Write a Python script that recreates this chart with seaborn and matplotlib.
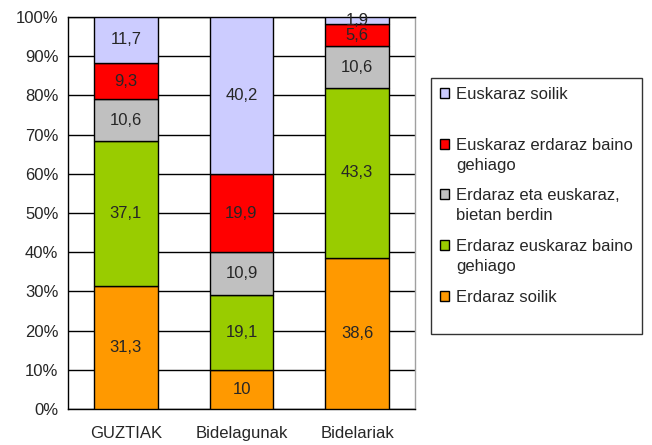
import pandas as pd
import seaborn as sns
import matplotlib.pyplot as plt
from matplotlib.patches import Patch, Rectangle
from matplotlib.legend_handler import HandlerPatch

# Datuak
groups = ["GUZTIAK", "Bidelagunak", "Bidelariak"]
series = ["Euskaraz soilik", "Euskaraz erdaraz baino gehiago",
          "Erdaraz eta euskaraz, bietan berdin",
          "Erdaraz euskaraz baino gehiago", "Erdaraz soilik"]
legend_labels = ["Euskaraz soilik\n ", "Euskaraz erdaraz baino\ngehiago",
                 "Erdaraz eta euskaraz,\nbietan berdin",
                 "Erdaraz euskaraz baino\ngehiago", "Erdaraz soilik\n "]
euskaraz_soilik = [11.7, 40.2, 1.9]
euskaraz_gehiago = [9.3, 19.9, 5.6]
berdin = [10.6, 10.9, 10.6]
erdaraz_gehiago = [37.1, 19.1, 43.3]
erdaraz_soilik = [31.3, 10, 38.6]
colors = ["#CCCCFF", "#FF0000", "#C0C0C0", "#99CC00", "#FF9900"]

values = [euskaraz_soilik, euskaraz_gehiago, berdin, erdaraz_gehiago, erdaraz_soilik]
rows = []
for s, vals in zip(series, values):
    for g, v in zip(groups, vals):
        rows.append({"group": g, "series": s, "value": v})
df = pd.DataFrame(rows)
df["group"] = pd.Categorical(df["group"], categories=groups, ordered=True)

sns.set_style("white")
plt.rcParams["font.family"] = ["Liberation Sans", "DejaVu Sans"]
fs = 12

fig = plt.figure(figsize=(6.52, 4.45), dpi=100)
ax = fig.add_axes([68 / 652, 36 / 445, 347 / 652, 392 / 445])

sns.histplot(data=df, x="group", hue="series", weights="value",
             hue_order=series, palette=colors, multiple="stack",
             discrete=True, shrink=0.55, alpha=1, edgecolor="black",
             linewidth=1, legend=False, ax=ax, zorder=3)

for cont in ax.containers:
    labels = []
    for bar in cont:
        h = bar.get_height()
        labels.append(f"{h:g}".replace(".", ",") if h > 0 else "")
    ax.bar_label(cont, labels=labels, label_type="center", fontsize=fs)

ax.set_xlim(-0.5, 2.5)
ax.set_ylim(0, 100)
ax.set_yticks(range(0, 101, 10))
ax.set_yticklabels([f"{t}%" for t in range(0, 101, 10)], fontsize=fs)
ax.set_xticks([0, 1, 2])
ax.set_xticklabels(groups, fontsize=fs)
ax.set_xlabel("")
ax.set_ylabel("")
ax.yaxis.grid(True, color="black", linewidth=1, zorder=0)
ax.set_axisbelow(True)

# kategorien arteko marratxoak
ax.set_xticks([-0.5, 0.5, 1.5, 2.5], minor=True)
ax.tick_params(axis="x", which="major", length=0, pad=12)
ax.tick_params(axis="x", which="minor", length=5, width=1, color="black", direction="out")
ax.tick_params(axis="y", length=5, width=1, color="black", direction="out", pad=2)

for side in ["left", "bottom", "top"]:
    ax.spines[side].set_color("black")
    ax.spines[side].set_linewidth(1)
ax.spines["right"].set_color("#A0A0A0")
ax.spines["right"].set_linewidth(1)


# laukitxoa lehen lerroaren parean
def top_patch(legend, orig_handle, xdescent, ydescent, width, height, fontsize):
    return Rectangle((-xdescent, -ydescent + 0.7 * fontsize), width, height)


handles = [Patch(facecolor=c, edgecolor="black", linewidth=1) for c in colors]
hmap = {h: HandlerPatch(patch_func=top_patch) for h in handles}
leg = fig.legend(handles, legend_labels, loc="upper left",
                 bbox_to_anchor=(431 / 652, 1 - 78 / 445),
                 frameon=True, fancybox=False, edgecolor="black",
                 fontsize=fs, handlelength=0.55, handleheight=0.55,
                 handletextpad=0.4, labelspacing=0.95, borderpad=0.55,
                 borderaxespad=0, handler_map=hmap)
leg.get_frame().set_linewidth(1)
for t in leg.get_texts():
    t.set_linespacing(1.4)

fig.savefig("out.png", dpi=100)
